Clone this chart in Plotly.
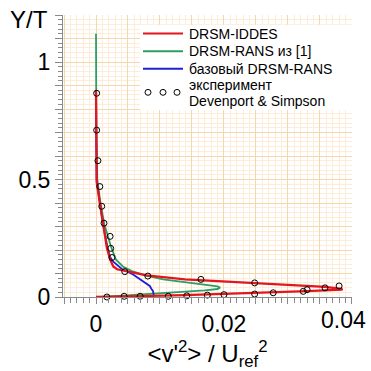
import plotly.graph_objects as go
import numpy as np

# ---- data ----
iddes_x = [0, 0, 0.00003, 0.0001, 0.0006, 0.0011, 0.0017, 0.0022, 0.0027, 0.0033, 0.0048, 0.0079,
           0.0139, 0.0248, 0.0358, 0.0385, 0.0384, 0.033, 0.025, 0.0139, 0.007, 0.0]
iddes_y = [0.88, 0.7, 0.6, 0.49, 0.40, 0.31, 0.21, 0.16, 0.13, 0.118, 0.11, 0.092,
           0.075, 0.058, 0.043, 0.034, 0.031, 0.025, 0.017, 0.008, 0.004, 0.0]

rans1_x = [0, 0, 0.00005, 0.0002, 0.0007, 0.0013, 0.0024, 0.0031, 0.0042, 0.0056, 0.0080, 0.0105,
           0.0139, 0.0175, 0.0190, 0.0194, 0.0190, 0.0170, 0.0139, 0.0079, 0.003, 0.001]
rans1_y = [1.12, 0.9, 0.7, 0.5, 0.40, 0.31, 0.21, 0.16, 0.13, 0.11, 0.09, 0.075,
           0.064, 0.052, 0.045, 0.040, 0.034, 0.028, 0.022, 0.012, 0.004, 0.0]

base_x = [0, 0, 0.0001, 0.0006, 0.0011, 0.0018, 0.0022, 0.0027, 0.0040, 0.0058, 0.0069, 0.0084,
          0.0087, 0.0089, 0.0090, 0.0090, 0.0088]
base_y = [0.88, 0.7, 0.5, 0.40, 0.31, 0.21, 0.17, 0.15, 0.12, 0.096, 0.075, 0.047,
          0.033, 0.026, 0.012, 0.005, 0.001]

exp_x = [0.0001, 0.0001, 0.0003, 0.0006, 0.0009, 0.00125, 0.0022, 0.0023, 0.0025, 0.0045, 0.0081,
         0.0164, 0.0248, 0.0358, 0.0380, 0.0330, 0.0324, 0.0277, 0.0248, 0.0200, 0.0174, 0.0142,
         0.0113, 0.0069, 0.0044, 0.0017]
exp_y = [0.867, 0.71, 0.58, 0.47, 0.386, 0.314, 0.258, 0.207, 0.168, 0.108, 0.089,
         0.075, 0.060, 0.039, 0.047, 0.031, 0.024, 0.018, 0.0125, 0.010, 0.008, 0.005,
         0.003, 0.003, 0.003, 0.0]

names = ["DRSM-IDDES", "DRSM-RANS из [1]", "базовый DRSM-RANS", "эксперимент", "Devenport & Simpson"]
colors = ["#E3161E", "#2E9E62", "#1F1FD6"]

x_ticklabels = {0.0: "0", 0.02: "0.02"}
x_last_label = "0.04"
y_ticklabels = {0.0: "0", 0.5: "0.5", 1.0: "1"}

# ---- figure ----
fig = go.Figure()
fig.add_trace(go.Scatter(x=rans1_x, y=rans1_y, mode="lines", line=dict(color=colors[1], width=1.8),
                         name=names[1], showlegend=False))
fig.add_trace(go.Scatter(x=base_x, y=base_y, mode="lines", line=dict(color=colors[2], width=1.8),
                         name=names[2], showlegend=False))
fig.add_trace(go.Scatter(x=iddes_x, y=iddes_y, mode="lines", line=dict(color=colors[0], width=2.3),
                         name=names[0], showlegend=False))
fig.add_trace(go.Scatter(x=exp_x, y=exp_y, mode="markers", cliponaxis=False,
                         marker=dict(symbol="circle-open", size=6, color="black", line=dict(width=1)),
                         name="эксперимент Devenport & Simpson", showlegend=False))

major_grid = "rgb(246,214,172)"
minor_grid = "rgb(252,236,216)"
axis_col = "#8a8a8a"

xt = [round(v, 4) for v in np.arange(-0.005, 0.0401, 0.005)]
yt = [round(v, 2) for v in np.arange(0, 1.201, 0.1)]

font_fam = "Liberation Sans, Arial"
fig.update_xaxes(range=[-0.00516, 0.04002], tickmode="array", tickvals=xt,
                 ticktext=[x_ticklabels.get(v, "") for v in xt],
                 showgrid=True, gridcolor=major_grid, gridwidth=1, zeroline=False,
                 showline=True, linecolor=axis_col, linewidth=1,
                 ticks="outside", ticklen=6, tickcolor=axis_col,
                 tickfont=dict(family=font_fam, size=23, color="black"),
                 minor=dict(tickmode="linear", tick0=0, dtick=0.001, showgrid=True, gridcolor=minor_grid,
                            ticks="outside", ticklen=5, tickcolor=axis_col),
                 title=dict(text="&lt;v'<sup>2</sup>&gt; / U<sub>ref</sub><sup>2</sup>",
                            font=dict(family=font_fam, size=24, color="black"), standoff=6))
fig.update_yaxes(range=[0, 1.2], tickmode="array", tickvals=yt,
                 ticktext=[y_ticklabels.get(v, "") for v in yt],
                 showgrid=True, gridcolor=major_grid, gridwidth=1, zeroline=False,
                 showline=True, linecolor=axis_col, linewidth=1,
                 ticks="outside", ticklen=7, tickcolor=axis_col,
                 tickfont=dict(family=font_fam, size=23, color="black"),
                 minor=dict(tickmode="linear", tick0=0, dtick=0.02, showgrid=True, gridcolor=minor_grid,
                            ticks="outside", ticklen=4, tickcolor=axis_col))

L, R, T, B = 63, 19, 15, 68
W = H = 371
pw, ph = W - L - R, H - T - B
def px(x):
    return (x - L) / pw
def py(y):
    return (H - B - y) / ph

shapes = [dict(type="rect", xref="paper", yref="paper", x0=px(140), x1=px(352), y0=py(112), y1=py(25),
               fillcolor="white", line=dict(width=0), layer="above")]
annotations = []
leg_rows = [34, 52, 70]
for i, r in enumerate(leg_rows):
    shapes.append(dict(type="line", xref="paper", yref="paper", x0=px(143), x1=px(183), y0=py(r), y1=py(r),
                       line=dict(color=colors[i], width=2), layer="above"))
    annotations.append(dict(xref="paper", yref="paper", x=px(187), y=py(r), text=names[i], showarrow=False,
                            xanchor="left", yanchor="middle",
                            font=dict(family=font_fam, size=14, color="black")))
for cx in [148, 163, 177]:
    shapes.append(dict(type="circle", xref="paper", yref="paper", x0=px(cx - 3), x1=px(cx + 3),
                       y0=py(94 + 3), y1=py(94 - 3), line=dict(color="black", width=1), layer="above"))
for txt, r in [(names[3], 86), (names[4], 103)]:
    annotations.append(dict(xref="paper", yref="paper", x=px(187), y=py(r), text=txt, showarrow=False,
                            xanchor="left", yanchor="middle", align="left",
                            font=dict(family=font_fam, size=14, color="black")))
annotations.append(dict(xref="paper", yref="paper", x=px(29), y=py(20), text="Y/T", showarrow=False,
                        xanchor="center", yanchor="middle",
                        font=dict(family=font_fam, size=24, color="black")))
# last x tick label, shifted left to stay inside the page as in the reference
annotations.append(dict(xref="x", yref="paper", x=0.04, y=py(326), text=x_last_label, showarrow=False,
                        xanchor="right", xshift=16, yanchor="middle",
                        font=dict(family=font_fam, size=23, color="black")))

fig.update_layout(width=W, height=H, margin=dict(l=L, r=R, t=T, b=B),
                  plot_bgcolor="white", paper_bgcolor="white", showlegend=False,
                  shapes=shapes, annotations=annotations)

fig.write_html("out.html")
